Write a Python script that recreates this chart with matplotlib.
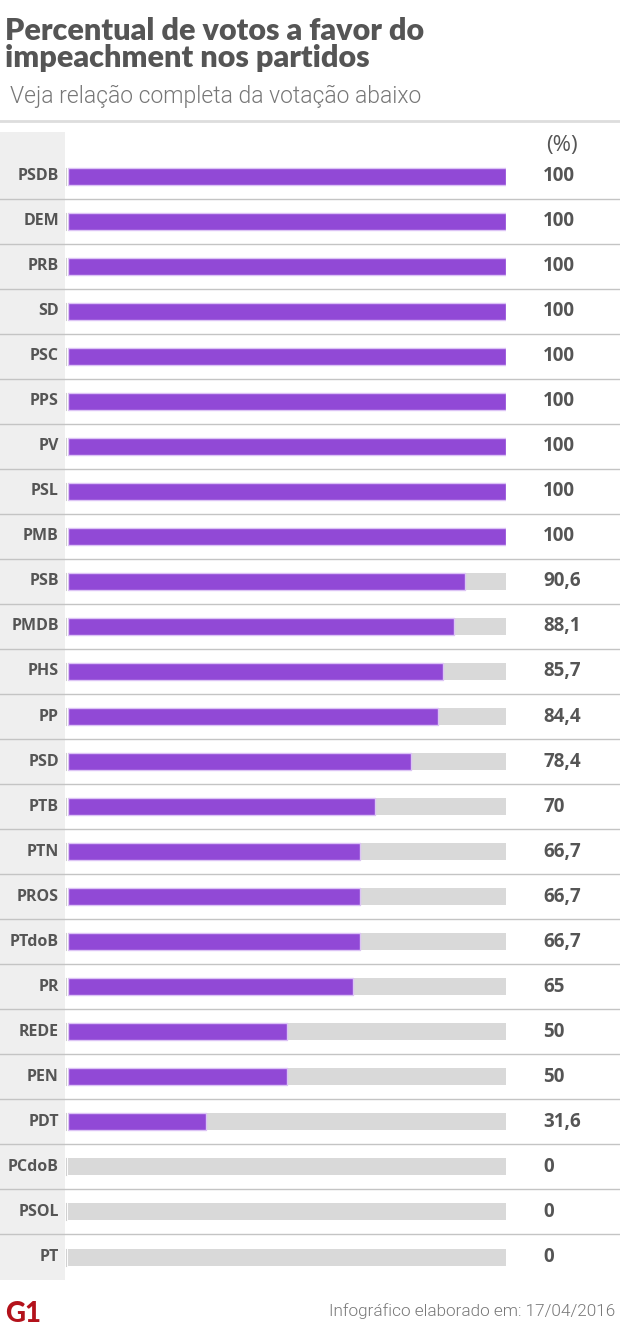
import matplotlib
matplotlib.use("Agg")
import matplotlib.pyplot as plt
from matplotlib.patches import Rectangle
from matplotlib.lines import Line2D
from matplotlib.transforms import blended_transform_factory

partidos = ["PSDB", "DEM", "PRB", "SD", "PSC", "PPS", "PV", "PSL", "PMB",
            "PSB", "PMDB", "PHS", "PP", "PSD", "PTB", "PTN", "PROS", "PTdoB",
            "PR", "REDE", "PEN", "PDT", "PCdoB", "PSOL", "PT"]
percentual = [100, 100, 100, 100, 100, 100, 100, 100, 100,
              90.6, 88.1, 85.7, 84.4, 78.4, 70, 66.7, 66.7, 66.7,
              65, 50, 50, 31.6, 0, 0, 0]
rotulos = ["100", "100", "100", "100", "100", "100", "100", "100", "100",
           "90,6", "88,1", "85,7", "84,4", "78,4", "70", "66,7", "66,7", "66,7",
           "65", "50", "50", "31,6", "0", "0", "0"]

W, H = 620, 1329
ROXO = "#9149d6"
CINZA_TRILHA = "#d9d9d9"
CINZA_TEXTO = "#555555"

def fx(px):
    return px / W

def fy(py):
    return 1 - py / H

fig = plt.figure(figsize=(W / 100, H / 100), dpi=100)
fig.patch.set_facecolor("white")

# area das barras: x 68..506 px, y 132..1280 px
ax = fig.add_axes([fx(68), fy(1280), fx(506 - 68), (1280 - 132) / H])
n = len(partidos)
passo = (1257 - 176) / (n - 1)
ax.set_xlim(0, 100)
ax.set_ylim(n - 1 + (1280 - 1257) / passo, -(176 - 132) / passo)
ax.axis("off")

# coluna cinza dos rotulos
fig.patches.append(Rectangle((0, fy(1280)), fx(65), (1280 - 132) / H,
                             transform=fig.transFigure, facecolor="#efefef",
                             edgecolor="none", zorder=0))

ys = list(range(n))
alt = 17 / passo
ax.barh(ys, [100] * n, height=alt, color=CINZA_TRILHA, zorder=2)
ax.barh(ys, percentual, height=alt, color=ROXO, edgecolor="#dcc3f5",
        linewidth=[1.0 if p > 0 else 0 for p in percentual], zorder=3)

trans = blended_transform_factory(fig.transFigure, ax.transData)

# separadores
for i in range(n - 1):
    fig.add_artist(Line2D([0, 1], [i + 0.5, i + 0.5], transform=trans,
                          color="#c4c4c4", linewidth=1.0, zorder=1))
# tracinho vertical antes de cada barra
for y in ys:
    fig.add_artist(Line2D([fx(65.5), fx(65.5)], [y - alt / 2, y + alt / 2],
                          transform=trans, color="#d0d0d0", linewidth=0.8))

for y, p, r in zip(ys, partidos, rotulos):
    fig.text(fx(59), y, p, transform=trans, ha="right", va="center",
             fontsize=11.5, fontweight="bold", color=CINZA_TEXTO,
             family=["Open Sans", "DejaVu Sans"])
    fig.text(fx(543), y, r, transform=trans, ha="left", va="center",
             fontsize=13.5, fontweight="bold", color=CINZA_TEXTO,
             family=["Open Sans", "DejaVu Sans"])

fig.text(fx(546), fy(145), "(%)", ha="left", va="center", fontsize=16,
         color=CINZA_TEXTO, family=["Open Sans", "DejaVu Sans"])

# linha superior
fig.add_artist(Line2D([0, 1], [fy(121), fy(121)], transform=fig.transFigure,
                      color="#dddddd", linewidth=2))

# titulos
fig.text(fx(5), fy(40), "Percentual de votos a favor do", ha="left",
         va="baseline", fontsize=22, fontweight="heavy", color=CINZA_TEXTO,
         family=["Lato", "DejaVu Sans"])
fig.text(fx(5), fy(67), "impeachment nos partidos", ha="left",
         va="baseline", fontsize=22, fontweight="heavy", color=CINZA_TEXTO,
         family=["Lato", "DejaVu Sans"])
fig.text(fx(10), fy(103), "Veja relação completa da votação abaixo", ha="left",
         va="baseline", fontsize=16.5, fontweight=300, color="#777777",
         family=["Roboto", "DejaVu Sans"])

# rodape
fig.text(fx(5), fy(1322), "G1", ha="left", va="baseline", fontsize=20,
         fontweight="black", color="#b3121b", family=["Lato", "DejaVu Sans"])
fig.text(fx(615), fy(1316), "Infográfico elaborado em: 17/04/2016",
         ha="right", va="baseline", fontsize=12.3, fontweight=300,
         color="#777777", family=["Roboto", "DejaVu Sans"])

fig.savefig("out.png", dpi=100, facecolor="white")
